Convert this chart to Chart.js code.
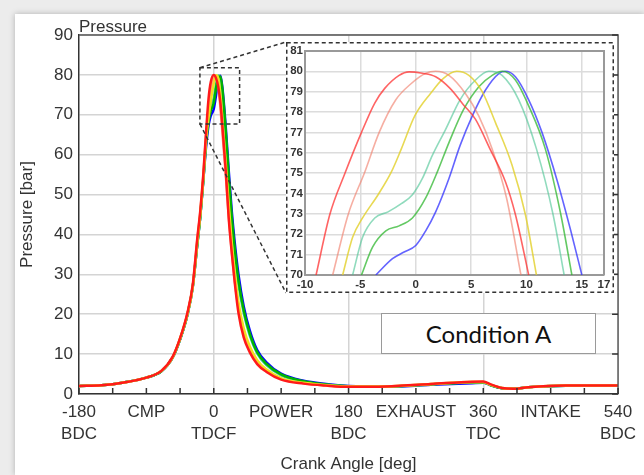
<!DOCTYPE html>
<html>
<head>
<meta charset="utf-8">
<script src="https://cdn.jsdelivr.net/npm/chart.js@4.4.1/dist/chart.umd.min.js"></script>
<style>
html, body { margin: 0; padding: 0; }
body { width: 644px; height: 475px; background: #ececec; position: relative; overflow: hidden; }
#card { position: absolute; left: 15px; top: 14px; width: 629px; height: 461px; background: #fff; box-shadow: 0 0 6px rgba(0,0,0,0.25); }
#main { position: absolute; left: 0; top: 0; }
#insetBox { position: absolute; left: 286px; top: 42px; }
#cond { position: absolute; left: 381px; top: 313px; width: 213px; height: 39px; border: 1px solid #9a9a9a; background: #fff;
        font-family: Lato, "Open Sans", sans-serif; font-size: 24px; color: #111; text-align: center; line-height: 39px; }
</style>
</head>
<body>
<div id="card"></div>
<canvas id="main" width="644" height="475"></canvas>
<div id="insetBox"><canvas id="inset" width="328" height="251"></canvas></div>
<div id="cond">Condition A</div>

<script>
// ---- data: crank angle [deg] vs cylinder pressure [bar] ----
const angles = [-180,-150,-120,-90,-70,-55,-45,-35,-28,-22,-18,-14,-10,-7,-4,0,3,6,9,12,16,20,24,28,33,40,48,58,70,90,120,150,180,230,290,345,360,370,385,400,420,470,540];

const pRed    = [2.0,2.2,2.9,4.1,5.8,9.3,14.0,20.5,27.5,39,46,55,66.5,74,78.2,79.95,79.2,77,72.8,66,56,44,35.5,28,20.3,14.2,10.5,7.5,5.6,3.6,2.6,2.1,1.8,1.9,2.5,3.1,3.15,2.4,1.5,1.3,1.7,2.1,2.1];
const pSalmon = [2.0,2.2,2.9,4.1,5.8,9.2,13.9,20.3,27.2,38.5,45.5,54.5,65.5,71.1,76.2,79.6,79.8,77.4,71.5,64.5,55,44.5,35.8,28.5,21.5,15.3,11,7.9,5.8,3.8,2.7,2.15,1.85,1.9,2.5,3.0,3.0,2.3,1.5,1.3,1.7,2.1,2.1];
const pYellow = [2.0,2.2,2.9,4.1,5.8,9.2,13.9,20.2,27,38,45,54,64.5,69.3,73.4,77.9,79.9,79.1,74.8,67.5,58,47.5,38,30.5,23,16.5,12,8.5,6.2,4.0,2.8,2.2,1.85,1.9,2.5,3.0,3.0,2.3,1.5,1.3,1.7,2.1,2.1];
const pTeal   = [2.0,2.2,2.9,4.1,5.7,9.1,13.7,20.0,26.9,37.5,44.5,53.5,64,68.8,72.4,74.2,77.5,79.85,78.8,73.9,64.5,53,43,35,27.5,20.3,14.7,10.2,7.3,4.7,3.1,2.3,1.95,1.85,2.4,2.9,2.9,2.2,1.45,1.3,1.7,2.05,2.1];
const pGreen  = [2.0,2.2,2.9,4.1,5.7,9.1,13.7,20.0,26.9,37.5,44.5,53.5,63.5,68.3,71.0,73.0,76.6,79.4,79.6,75.5,66,54.5,44.5,36.5,28.5,21,15.2,10.5,7.6,4.9,3.2,2.4,1.95,1.85,2.4,2.9,2.9,2.2,1.45,1.3,1.7,2.05,2.1];
const pBlue   = [2.0,2.2,2.9,4.1,5.7,9.1,13.7,20.0,26.9,37.5,44.5,53.5,62.5,67.3,69.8,71.45,74.8,78.8,79.8,76,67,56,46,38,30,22,16,11,8,5.1,3.3,2.5,2.0,1.8,2.3,2.7,2.8,2.2,1.45,1.3,1.7,2.05,2.1];

// zoomed view around the peak, [angle, pressure]
const insetRed    = [[-9.0,70],[-7.76,72.97],[-6.4,74.98],[-4.9,77.0],[-3.7,78.44],[-2.8,79.16],[-1.5,79.8],[-0.6,79.97],[0.6,79.9],[1.8,79.73],[3.1,79.16],[4.3,78.36],[5.4,77.64],[6.7,76.19],[8.1,74.58],[9.0,72.97],[10.2,70]];
const insetSalmon = [[-7.5,70],[-6.1,72.97],[-4.6,75.06],[-3.3,77.0],[-1.8,78.6],[-0.4,79.4],[0.9,79.9],[1.8,80],[3.0,79.8],[4.5,78.9],[5.7,77.8],[6.9,76.19],[8.2,73.78],[9.5,70]];
const insetYellow = [[-6.6,70],[-5.7,71.85],[-4.8,72.8],[-3.4,73.94],[-2.2,75.06],[-1.3,76.19],[-0.1,77.8],[1.35,78.92],[2.5,79.65],[3.7,80],[4.8,79.8],[6.0,79.0],[7.2,77.48],[8.7,75.39],[9.9,72.97],[10.9,70]];
const insetTeal   = [[-5.7,70],[-4.8,71.85],[-3.7,72.8],[-2.5,73.1],[-1.3,73.5],[-0.3,73.94],[0.6,74.74],[1.5,75.87],[2.7,77.15],[4.0,78.6],[5.4,79.57],[6.6,80],[7.8,79.8],[9.3,78.6],[10.9,76.19],[12.4,72.97],[13.4,70]];
const insetGreen  = [[-4.9,70],[-3.9,71.37],[-2.7,72.17],[-1.5,72.41],[-0.3,72.8],[0.9,73.78],[1.95,75.06],[3.0,76.5],[4.3,78.1],[5.7,79.24],[6.9,79.8],[7.8,80],[9.0,79.57],[10.2,78.3],[11.7,76.19],[13.1,72.97],[14.1,70]];
const insetBlue   = [[-3.6,70],[-2.1,70.8],[-1.05,71.13],[0.0,71.45],[0.9,72.17],[1.8,73.1],[3.0,74.74],[4.0,76.35],[5.1,77.8],[6.3,79.08],[7.5,79.89],[8.1,80],[9.0,79.73],[10.2,78.6],[11.4,77.0],[12.8,74.58],[14.0,72.17],[15.0,70]];

// axis labels
const xTickValues = [-180,-90,0,90,180,270,360,450,540];
const xTickLine1  = ['-180','CMP','0','POWER','180','EXHAUST','360','INTAKE','540'];
const xTickLine2  = ['BDC','','TDCF','','BDC','','TDC','','BDC'];
const xMinorTicks = [-180,-135,-90,-45,0,45,90,135,180,225,270,315,360,405,450,495,540];
const xGridAt     = [0,180,360];
const insetXTicks = [-10,-5,0,5,10,15,17];
const zoomBoxX = [-18.5, 34.5];
const zoomBoxY = [67.7, 81.8];

const INSET = { left: 286, top: 42, w: 328, h: 251 };
const FONT = '"Liberation Sans", Arial, sans-serif';
const TXT = '#333';

const toXY = (ys) => ys.map((p, i) => ({ x: angles[i], y: p }));
const pairs = (arr) => arr.map(p => ({ x: p[0], y: p[1] }));

function line(data, color, width) {
    return { data: data, borderColor: color, borderWidth: width, pointRadius: 0,
             cubicInterpolationMode: 'monotone', fill: false };
}

// decorations of the main plot: frame, inward ticks, zoom box
const mainDecor = {
    id: 'mainDecor',
    afterDraw(chart) {
        const ctx = chart.ctx, a = chart.chartArea;
        const xs = chart.scales.x, ys = chart.scales.y;
        ctx.save();
        ctx.strokeStyle = '#555';
        ctx.lineWidth = 1.5;
        ctx.beginPath();
        ctx.moveTo(a.left, a.top); ctx.lineTo(a.right, a.top); ctx.lineTo(a.right, a.bottom);
        ctx.stroke();

        ctx.strokeStyle = '#333';
        ctx.beginPath();
        xMinorTicks.forEach(v => {
            const px = xs.getPixelForValue(v);
            ctx.moveTo(px, a.bottom); ctx.lineTo(px, a.bottom - 6);
        });
        ys.ticks.forEach(t => {
            const py = ys.getPixelForValue(t.value);
            ctx.moveTo(a.right, py); ctx.lineTo(a.right - 6, py);
        });
        ctx.stroke();

        ctx.fillStyle = TXT;
        ctx.font = '17px ' + FONT;
        ctx.textBaseline = 'alphabetic';
        ctx.textAlign = 'left';
        ctx.fillText('Pressure', a.left, a.top - 3);

        ctx.setLineDash([4, 3]);
        ctx.strokeStyle = '#333';
        ctx.lineWidth = 1.5;
        const x0 = xs.getPixelForValue(zoomBoxX[0]), x1 = xs.getPixelForValue(zoomBoxX[1]);
        const y0 = ys.getPixelForValue(zoomBoxY[1]), y1 = ys.getPixelForValue(zoomBoxY[0]);
        ctx.strokeRect(x0, y0, x1 - x0, y1 - y0);
        ctx.beginPath();
        ctx.moveTo(x0, y0); ctx.lineTo(INSET.left, INSET.top);
        ctx.moveTo(x0, y1); ctx.lineTo(INSET.left, INSET.top + INSET.h);
        ctx.stroke();
        ctx.restore();
    }
};

const insetDecor = {
    id: 'insetDecor',
    beforeDraw(chart) {
        const ctx = chart.ctx;
        ctx.save();
        ctx.fillStyle = '#fff';
        ctx.fillRect(0, 0, chart.width, chart.height);
        ctx.restore();
    },
    afterDraw(chart) {
        const ctx = chart.ctx, a = chart.chartArea;
        ctx.save();
        ctx.strokeStyle = '#999';
        ctx.lineWidth = 2;
        ctx.beginPath();
        ctx.moveTo(a.left, a.top); ctx.lineTo(a.right, a.top); ctx.lineTo(a.right, a.bottom);
        ctx.stroke();
        ctx.setLineDash([4, 3]);
        ctx.strokeStyle = '#333';
        ctx.lineWidth = 1.5;
        ctx.strokeRect(0.75, 0.75, chart.width - 1.5, chart.height - 1.5);
        ctx.restore();
    }
};

function initMain() {
    new Chart(document.getElementById('main'), {
        type: 'line',
        data: {
            datasets: [
                line(toXY(pRed), '#ff1a1a', 2.5),
                line(toXY(pYellow), '#f2e020', 2.5),
                line(toXY(pSalmon), '#ff9a80', 2.5),
                line(toXY(pGreen), '#00b400', 2.5),
                line(toXY(pTeal), '#40cc9a', 2.5),
                line(toXY(pBlue), '#0000ff', 2.5)
            ]
        },
        options: {
            responsive: false,
            animation: false,
            layout: { padding: { left: 15, top: 35, right: 20, bottom: 0 } },
            plugins: { legend: { display: false }, tooltip: { enabled: false } },
            scales: {
                x: {
                    type: 'linear', min: -180, max: 540,
                    afterBuildTicks: (s) => { s.ticks = xMinorTicks.map(v => ({ value: v })); },
                    afterFit: (s) => { s.height = 81; },
                    ticks: {
                        autoSkip: false, maxRotation: 0, padding: 8, color: TXT,
                        font: { family: FONT, size: 17, lineHeight: 1.27 },
                        callback: (v) => {
                            const i = xTickValues.indexOf(v);
                            if (i < 0) return '';
                            return xTickLine2[i] ? [xTickLine1[i], xTickLine2[i]] : xTickLine1[i];
                        }
                    },
                    grid: {
                        drawTicks: false, lineWidth: 1.5,
                        color: (c) => (c.tick && xGridAt.includes(c.tick.value)) ? '#d4d4d4' : 'rgba(0,0,0,0)'
                    },
                    border: { color: '#333', width: 1.5 },
                    title: { display: true, text: 'Crank Angle [deg]', color: TXT,
                             font: { family: FONT, size: 17 }, padding: { top: 0, bottom: 0 } }
                },
                y: {
                    min: 0, max: 90,
                    afterFit: (s) => { s.width = 64; },
                    ticks: { stepSize: 10, padding: 6, color: TXT, font: { family: FONT, size: 17 } },
                    grid: { drawTicks: false, color: '#d4d4d4', lineWidth: 1.5 },
                    border: { color: '#333', width: 1.5 },
                    title: { display: true, text: 'Pressure [bar]', color: TXT,
                             font: { family: FONT, size: 17 }, padding: { top: 2, bottom: 0 } }
                }
            }
        },
        plugins: [mainDecor]
    });
}

function initInset() {
    new Chart(document.getElementById('inset'), {
        type: 'line',
        data: {
            datasets: [
                line(pairs(insetRed), 'rgba(255,40,40,0.72)', 1.6),
                line(pairs(insetSalmon), 'rgba(240,120,100,0.6)', 1.6),
                line(pairs(insetYellow), 'rgba(226,208,40,0.8)', 1.6),
                line(pairs(insetTeal), 'rgba(70,195,145,0.6)', 1.6),
                line(pairs(insetGreen), 'rgba(40,180,40,0.72)', 1.6),
                line(pairs(insetBlue), 'rgba(40,40,255,0.72)', 1.6)
            ]
        },
        options: {
            responsive: false,
            animation: false,
            layout: { padding: { left: 0, top: 5, right: 10, bottom: 0 } },
            plugins: { legend: { display: false }, tooltip: { enabled: false } },
            scales: {
                x: {
                    type: 'linear', min: -10, max: 17,
                    afterBuildTicks: (s) => { s.ticks = insetXTicks.map(v => ({ value: v })); },
                    afterFit: (s) => { s.height = 18; },
                    ticks: { autoSkip: false, maxRotation: 0, padding: 3, color: TXT,
                             font: { family: FONT, size: 11.5, weight: 'bold' } },
                    grid: { drawTicks: false, color: '#dcdcdc', lineWidth: 1.5 },
                    border: { color: '#999', width: 2 }
                },
                y: {
                    min: 70, max: 81,
                    afterFit: (s) => { s.width = 19; },
                    ticks: { stepSize: 1, padding: 2, color: TXT,
                             font: { family: FONT, size: 11.5, weight: 'bold' } },
                    grid: { drawTicks: false, color: '#dcdcdc', lineWidth: 1.5 },
                    border: { color: '#999', width: 2 }
                }
            }
        },
        plugins: [insetDecor]
    });
}

initMain();
initInset();
</script>
</body>
</html>
